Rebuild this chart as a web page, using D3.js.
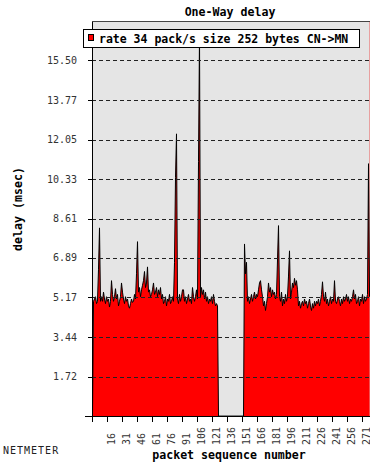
<!DOCTYPE html>
<html>
<head>
<meta charset="utf-8">
<script src="https://cdn.jsdelivr.net/npm/d3@7"></script>
<style>
  body { margin: 0; background: #fff; }
  svg { display: block; font-family: "DejaVu Sans Mono", monospace; }
</style>
</head>
<body>
<script>
const width = 370;
const height = 464;

const title = 'One-Way delay';
const seriesName = 'rate 34 pack/s size 252 bytes CN->MN';
const xTitle = 'packet sequence number';
const yTitle = 'delay (msec)';
const footer = 'NETMETER';

const yTickLabels = ['1.72', '3.44', '5.17', '6.89', '8.61', '10.33', '12.05', '13.77', '15.50'];
const xTickLabels = ['16', '31', '46', '61', '76', '91', '106', '121', '136', '151', '166', '181', '196', '211', '226', '241', '256', '271'];
const xDomain = [1, 278];
const yDomain = [0, 17.22];

// one-way delay (msec) per packet, starting at packet 1; 0 = lost packet
const delays = [
  0, 5.0, 5.1, 5.2, 4.9, 5.0, 6.4, 8.2, 5.0, 5.2,
  5.0, 5.4, 5.1, 4.9, 5.2, 5.0, 5.1, 4.75, 5.0, 5.9,
  5.3, 5.0, 5.2, 5.55, 5.1, 5.3, 4.8, 5.0, 5.2, 5.8,
  5.4, 5.1, 4.9, 5.2, 5.0, 5.1, 4.8, 4.7, 4.9, 5.1,
  4.95, 5.0, 5.3, 5.1, 6.2, 7.6, 5.4, 5.6, 5.2, 5.5,
  5.7, 5.9, 6.3, 5.6, 5.8, 6.5, 5.4, 5.5, 5.2, 5.3,
  5.5, 5.8, 5.3, 5.4, 5.6, 5.2, 5.5, 5.3, 5.6, 5.1,
  5.3, 4.9, 5.0, 5.2, 4.8, 5.1, 5.0, 5.3, 4.9, 5.0,
  5.2, 5.0, 6.7, 10.4, 12.3, 5.1, 4.9, 5.3, 5.0, 5.2,
  5.5, 5.5, 5.0, 5.2, 4.9, 5.1, 5.3, 5.0, 5.1, 4.9,
  5.6, 5.2, 5.0, 5.2, 5.5, 5.1, 11.1, 16.6, 5.2, 5.6,
  5.3, 5.5, 5.1, 5.4, 5.0, 5.2, 4.9, 5.1, 5.0, 5.2,
  4.9, 5.3, 5.0, 4.8, 4.9, 4.8, 0, 0, 0, 0,
  0, 0, 0, 0, 0, 0, 0, 0, 0, 0,
  0, 0, 0, 0, 0, 0, 0, 0, 0, 0,
  0, 0, 7.5, 6.2, 6.7, 5.0, 5.2, 4.9, 5.1, 5.3,
  5.0, 5.2, 5.4, 5.1, 5.3, 5.2, 5.5, 5.8, 5.9, 5.5,
  5.2, 4.8, 5.0, 4.6, 4.9, 5.2, 5.8, 5.4, 5.6, 5.2,
  5.5, 5.3, 5.4, 5.1, 5.3, 6.8, 8.3, 5.2, 5.0, 5.4,
  4.8, 5.1, 4.9, 5.3, 5.0, 5.2, 6.1, 7.2, 5.1, 5.4,
  5.8, 5.6, 6.0, 5.7, 5.9, 5.5, 4.8, 5.0, 4.7, 4.9,
  5.0, 4.8, 5.1, 4.9, 5.0, 4.7, 4.9, 5.1, 4.8, 4.6,
  4.9, 4.7, 5.0, 4.8, 5.0, 4.9, 5.1, 4.8, 5.0, 5.3,
  5.85, 5.2, 5.0, 5.4, 4.9, 5.1, 4.8, 5.0, 5.2, 4.9,
  5.1, 5.0, 5.9, 5.0, 4.9, 5.1, 5.2, 5.0, 4.8, 5.1,
  4.9, 5.2, 5.0, 5.1, 5.3, 5.0, 5.2, 4.9, 5.1, 5.0,
  5.2, 5.5, 5.1, 5.3, 4.9, 5.0, 5.2, 4.8, 5.1, 5.0,
  5.3, 4.9, 5.2, 5.0, 5.1, 5.3, 11.0, 5.2
];

const plot = {left: 92, right: 370, top: 21, bottom: 416};

const x = d3.scaleLinear().domain(xDomain).range([plot.left, 369]);
const y = d3.scaleLinear().domain(yDomain).range([plot.bottom, plot.top]);

const points = delays.map((d, i) => ({packet: i + xDomain[0], delay: d}));

const svg = d3.select('body').append('svg')
  .attr('width', width)
  .attr('height', height)
  .attr('viewBox', `0 0 ${width} ${height}`);

svg.append('defs').append('clipPath').attr('id', 'plotclip')
  .append('rect')
  .attr('x', plot.left).attr('y', plot.top)
  .attr('width', plot.right - plot.left).attr('height', plot.bottom - plot.top);

// plot background
svg.append('rect')
  .attr('x', plot.left).attr('y', plot.top)
  .attr('width', plot.right - plot.left).attr('height', plot.bottom - plot.top)
  .attr('fill', '#e5e5e5');

svg.append('line')
  .attr('x1', 369.5).attr('x2', 369.5).attr('y1', plot.top).attr('y2', plot.bottom)
  .attr('stroke', '#e8a0a0');

const g = svg.append('g').attr('clip-path', 'url(#plotclip)');

const area = d3.area()
  .x(d => x(d.packet) + 0.5)
  .y0(y(0))
  .y1(d => y(d.delay));

const line = d3.line()
  .x(d => x(d.packet) + 0.5)
  .y(d => y(d.delay));

g.append('path')
  .datum(points)
  .attr('d', area)
  .attr('fill', '#ff0000');

g.append('path')
  .datum(points)
  .attr('d', line)
  .attr('fill', 'none')
  .attr('stroke', '#000')
  .attr('stroke-width', 1);

// dashed grid, drawn over the data like the original
const yTicks = yTickLabels.map(Number);
svg.append('g')
  .selectAll('line')
  .data(yTicks)
  .enter()
  .append('line')
  .attr('x1', plot.left).attr('x2', plot.right)
  .attr('y1', d => Math.round(y(d)) + 0.5)
  .attr('y2', d => Math.round(y(d)) + 0.5)
  .attr('stroke', '#222')
  .attr('stroke-dasharray', '4,3');

// y ticks + labels
const yAxis = svg.append('g');
yAxis.selectAll('line')
  .data(yTicks)
  .enter()
  .append('line')
  .attr('x1', 88).attr('x2', plot.left)
  .attr('y1', d => Math.round(y(d)) + 0.5)
  .attr('y2', d => Math.round(y(d)) + 0.5)
  .attr('stroke', '#000');
yAxis.selectAll('text')
  .data(yTickLabels)
  .enter()
  .append('text')
  .attr('x', 77)
  .attr('y', d => y(+d) + 3.5)
  .attr('text-anchor', 'end')
  .attr('font-size', '10px')
  .attr('fill', '#333')
  .text(d => d);

// frame
svg.append('line')
  .attr('x1', plot.left + 0.5).attr('x2', plot.left + 0.5)
  .attr('y1', plot.top).attr('y2', plot.bottom)
  .attr('stroke', '#000');
svg.append('line')
  .attr('x1', plot.left).attr('x2', plot.right)
  .attr('y1', plot.top + 0.5).attr('y2', plot.top + 0.5)
  .attr('stroke', '#444');
svg.append('line')
  .attr('x1', 85).attr('x2', plot.right)
  .attr('y1', plot.bottom + 0.5).attr('y2', plot.bottom + 0.5)
  .attr('stroke', '#000');

// x ticks + rotated labels
const xTicks = [xDomain[0]].concat(xTickLabels.map(Number));
const xAxis = svg.append('g');
xAxis.selectAll('line')
  .data(xTicks)
  .enter()
  .append('line')
  .attr('x1', d => Math.round(x(d)) + 0.5)
  .attr('x2', d => Math.round(x(d)) + 0.5)
  .attr('y1', plot.bottom).attr('y2', plot.bottom + 6)
  .attr('stroke', '#000');
xAxis.selectAll('text')
  .data(xTickLabels)
  .enter()
  .append('text')
  .attr('transform', d => `translate(${Math.round(x(+d)) + 7.5},445) rotate(-90)`)
  .attr('font-size', '10px')
  .attr('fill', '#333')
  .text(d => d);

// legend
svg.append('rect')
  .attr('x', 83.5).attr('y', 29.5).attr('width', 276).attr('height', 18)
  .attr('fill', '#fff').attr('stroke', '#000');
svg.append('rect')
  .attr('x', 88.5).attr('y', 34.5).attr('width', 5).attr('height', 6)
  .attr('fill', '#ff0000').attr('stroke', '#000');
svg.append('text')
  .attr('x', 99).attr('y', 42.5)
  .attr('font-size', '11.5px').attr('font-weight', 'bold')
  .text(seriesName);

// titles
svg.append('text')
  .attr('x', 230).attr('y', 16)
  .attr('text-anchor', 'middle')
  .attr('font-size', '11.6px').attr('font-weight', 'bold')
  .text(title);
svg.append('text')
  .attr('x', 229).attr('y', 459)
  .attr('text-anchor', 'middle')
  .attr('font-size', '11.6px').attr('font-weight', 'bold')
  .text(xTitle);
svg.append('text')
  .attr('transform', 'translate(22,209) rotate(-90)')
  .attr('text-anchor', 'middle')
  .attr('font-size', '11.6px').attr('font-weight', 'bold')
  .text(yTitle);
svg.append('text')
  .attr('x', 3).attr('y', 454)
  .attr('font-size', '10px').attr('letter-spacing', '1px')
  .attr('fill', '#222')
  .text(footer);
</script>
</body>
</html>
